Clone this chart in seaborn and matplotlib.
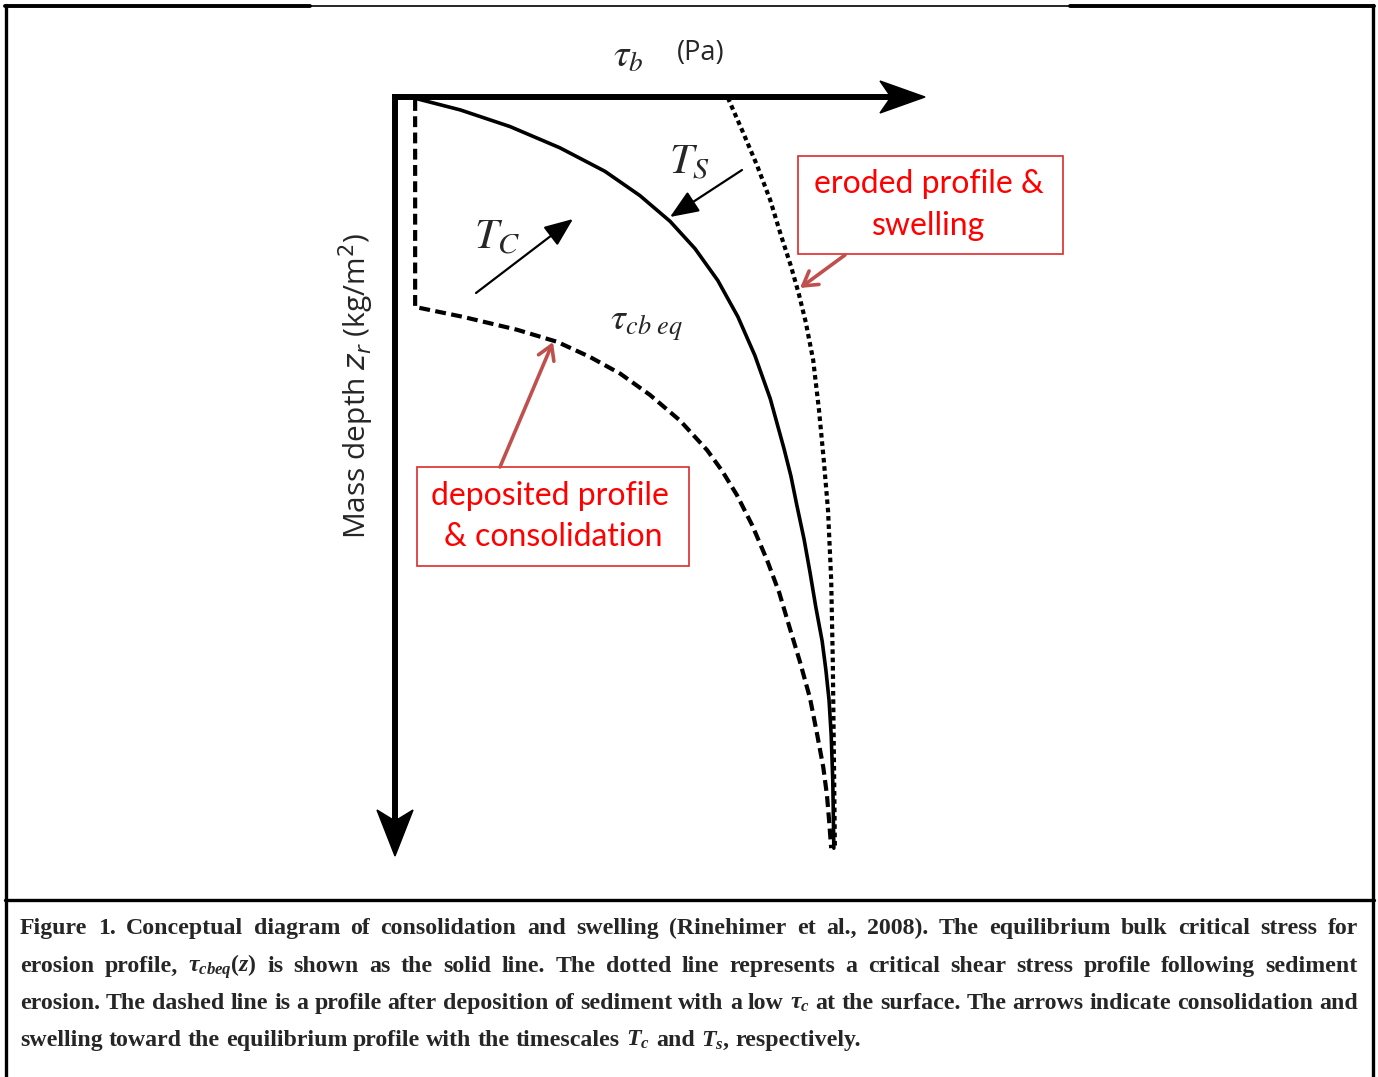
import matplotlib
matplotlib.use("Agg")
import matplotlib.pyplot as plt
import seaborn as sns
from matplotlib.patches import Polygon, Rectangle

sns.set_theme(style="white")
plt.rcParams["font.family"] = ["Open Sans", "DejaVu Sans"]
plt.rcParams["mathtext.fontset"] = "custom"
plt.rcParams["mathtext.rm"] = "Liberation Serif:bold"
plt.rcParams["mathtext.it"] = "Liberation Serif:italic:bold"
plt.rcParams["mathtext.bf"] = "Liberation Serif:bold"

# profiles: tau_b (0-10) against mass depth (0-10)
eq_tau = [0.34, 1.23, 2.17, 3.11, 3.96, 4.62, 5.19, 5.66, 6.09, 6.47, 6.79,
          7.08, 7.34, 7.47, 7.58, 7.72, 7.83, 7.94, 8.06, 8.13, 8.19, 8.23,
          8.26, 8.28]
eq_depth = [0.01, 0.17, 0.39, 0.67, 0.98, 1.30, 1.64, 2.00, 2.42, 2.90, 3.41,
            3.98, 4.64, 5.00, 5.38, 5.84, 6.27, 6.73, 7.18, 7.56, 7.96, 8.42,
            9.02, 9.91]

dep_tau = [0.38, 0.38, 1.28, 2.30, 3.06, 3.68, 4.25, 4.81, 5.38, 5.89, 6.17,
           6.45, 6.74, 7.02, 7.25, 7.45, 7.64, 7.83, 7.96, 8.08, 8.15, 8.19, 8.23]
dep_depth = [0.04, 2.77, 2.90, 3.07, 3.23, 3.43, 3.65, 3.93, 4.27, 4.66, 4.93,
             5.25, 5.65, 6.11, 6.54, 7.01, 7.45, 7.93, 8.39, 8.84, 9.21, 9.54, 9.91]

ero_tau = [6.28, 6.55, 6.83, 7.08, 7.28, 7.47, 7.62, 7.75, 7.89, 8.00, 8.09,
           8.17, 8.23, 8.26, 8.28, 8.30]
ero_depth = [0.01, 0.44, 0.90, 1.36, 1.82, 2.23, 2.60, 2.97, 3.47, 4.13, 4.79,
             5.45, 6.37, 7.43, 8.61, 9.91]

caption = [
    ["Figure", "1.", "Conceptual", "diagram", "of", "consolidation", "and", "swelling",
     "(Rinehimer", "et", "al.,", "2008).", "The", "equilibrium", "bulk", "critical",
     "stress", "for"],
    ["erosion", "profile,", r"$\tau_{cbeq}(z)$", "is", "shown", "as", "the", "solid",
     "line.", "The", "dotted", "line", "represents", "a", "critical", "shear", "stress",
     "profile", "following", "sediment"],
    ["erosion.", "The", "dashed", "line", "is", "a", "profile", "after", "deposition",
     "of", "sediment", "with", "a", "low", r"$\tau_c$", "at", "the", "surface.", "The",
     "arrows", "indicate", "consolidation", "and"],
    ["swelling", "toward", "the", "equilibrium", "profile", "with", "the", "timescales",
     r"$T_c$", "and", r"$T_s$,", "respectively."],
]

W, H = 1378, 1077
fig = plt.figure(figsize=(W / 100, H / 100), dpi=100)
ax = fig.add_axes([0, 0, 1, 1])
ax.set_xlim(0, W)
ax.set_ylim(H, 0)
ax.axis("off")

# frame
ax.plot([6, 6], [5, H], color="black", lw=2.4)
ax.plot([1373, 1373], [5, H], color="black", lw=2.4)
ax.plot([5, 310], [6, 6], color="black", lw=2.8)
ax.plot([310, 1070], [6, 6], color="black", lw=1.2)
ax.plot([1070, 1374], [6, 6], color="black", lw=2.8)
ax.plot([5, 1374], [900, 900], color="black", lw=2.4)

# diagram axes: origin at top-left, depth increases downward
dax = fig.add_axes([395 / W, 1 - 855 / H, 530 / W, 758 / H])
dax.set_xlim(0, 10)
dax.set_ylim(10, 0)
dax.axis("off")
dax.patch.set_alpha(0)

sns.lineplot(x=eq_tau, y=eq_depth, sort=False, estimator=None, color="black",
             lw=2.6, ax=dax)
sns.lineplot(x=dep_tau, y=dep_depth, sort=False, estimator=None, color="black",
             lw=3.0, linestyle=(0, (2.6, 1.3)), ax=dax)
sns.lineplot(x=ero_tau, y=ero_depth, sort=False, estimator=None, color="black",
             lw=3.0, linestyle=(0, (1.1, 0.9)), ax=dax)

# axis arrows
ax.plot([392, 895], [97, 97], color="black", lw=4.3, solid_capstyle="butt")
ax.plot([395, 395], [94, 825], color="black", lw=4.3, solid_capstyle="butt")
ax.add_patch(Polygon([(925, 97), (880, 81), (891, 97), (880, 113)], closed=True,
                     color="black"))
ax.add_patch(Polygon([(395, 856), (377, 810), (395, 821), (413, 810)], closed=True,
                     color="black"))

ax.text(628, 57, r"$\tau_b$", fontsize=28, math_fontfamily="stix", ha="center",
        va="center")
ax.text(701, 53, "(Pa)", fontsize=19.5, ha="center", va="center")
ax.text(356, 386, r"Mass depth $z_r$ (kg/m$^2$)", rotation=90, fontsize=21.5,
        ha="center", va="center", math_fontfamily="dejavusans")

ax.text(497, 238, r"$T_C$", fontsize=31, math_fontfamily="stix", ha="center",
        va="center")
ax.text(690, 163, r"$T_S$", fontsize=31, math_fontfamily="stix", ha="center",
        va="center")
ax.text(646, 324, r"$\tau_{cb\ eq}$", fontsize=27, math_fontfamily="stix",
        ha="center", va="center")

ax.annotate("", xy=(573, 219), xytext=(476, 293),
            arrowprops=dict(arrowstyle="-|>,head_length=1.1,head_width=0.45",
                            color="black", lw=1.6, shrinkA=0, shrinkB=0,
                            mutation_scale=16))
ax.annotate("", xy=(670, 217), xytext=(742, 170),
            arrowprops=dict(arrowstyle="-|>,head_length=1.1,head_width=0.45",
                            color="black", lw=1.6, shrinkA=0, shrinkB=0,
                            mutation_scale=16))

# red call-outs
red = "#ff0000"
ax.add_patch(Rectangle((798, 156), 265, 98, fill=False, ec="#dd2a2a", lw=1.2))
ax.text(929, 184, "eroded profile &", color=red, fontsize=23, family="Lato",
        ha="center", va="center")
ax.text(929, 226, "swelling", color=red, fontsize=23, family="Lato",
        ha="center", va="center")
ax.annotate("", xy=(800, 288), xytext=(845, 255),
            arrowprops=dict(arrowstyle="->,head_length=0.5,head_width=0.3",
                            color="#c0504d", lw=2.6, shrinkA=0, shrinkB=0,
                            mutation_scale=20))

ax.add_patch(Rectangle((417, 467), 272, 99, fill=False, ec="#dd2a2a", lw=1.2))
ax.text(550, 496, "deposited profile", color=red, fontsize=23, family="Lato",
        ha="center", va="center")
ax.text(553, 537, "& consolidation", color=red, fontsize=23, family="Lato",
        ha="center", va="center")
ax.annotate("", xy=(553, 342), xytext=(500, 467),
            arrowprops=dict(arrowstyle="->,head_length=0.5,head_width=0.3",
                            color="#c0504d", lw=2.6, shrinkA=0, shrinkB=0,
                            mutation_scale=20))

# justified caption
renderer = fig.canvas.get_renderer()
left, right = 20, 1358
baselines = [934, 972, 1009, 1046]
for i, (words, yb) in enumerate(zip(caption, baselines)):
    texts = [ax.text(0, yb, w, fontsize=17.2, family="Liberation Serif",
                     fontweight="bold", va="baseline") for w in words]
    widths = [t.get_window_extent(renderer).width for t in texts]
    if i < len(caption) - 1:
        gap = (right - left - sum(widths)) / (len(words) - 1)
    else:
        gap = 6.0
    x = left
    for t, w in zip(texts, widths):
        t.set_x(x)
        x += w + gap

fig.savefig("out.png", dpi=100)
